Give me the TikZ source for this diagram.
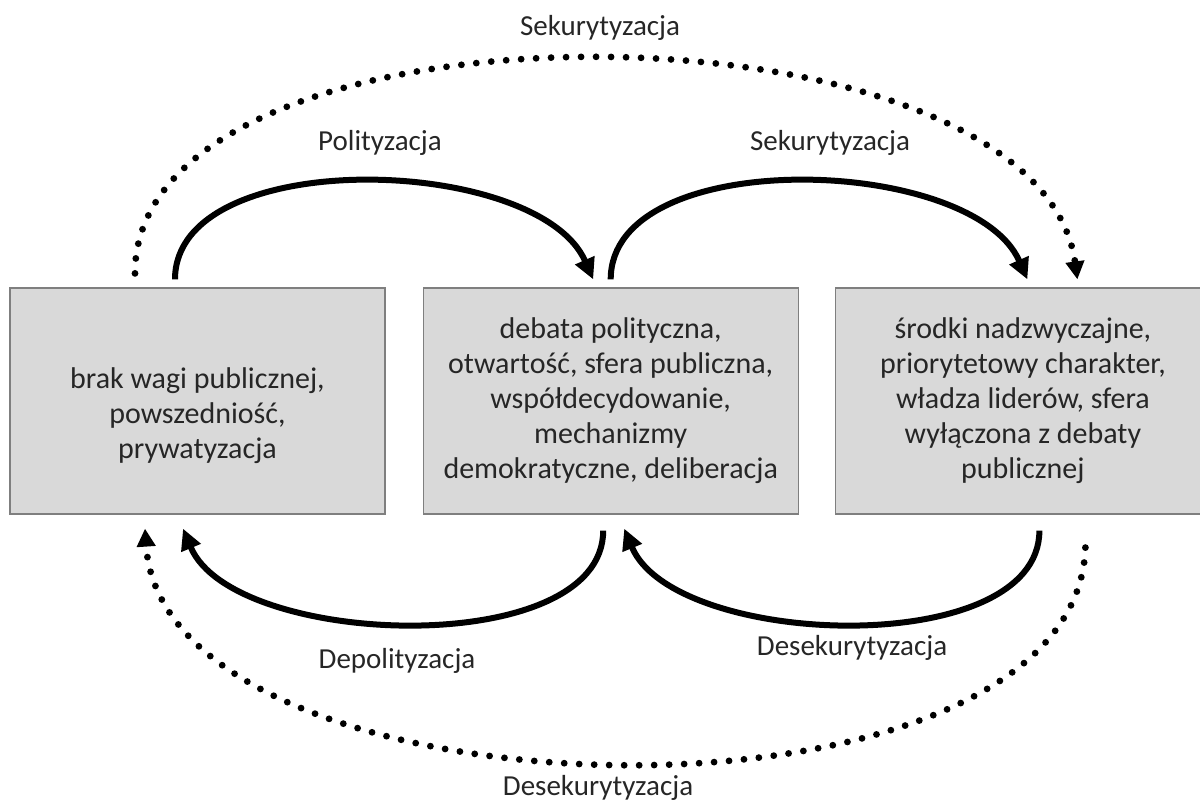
\documentclass[tikz,border=0pt]{standalone}
\usepackage{fontspec}
\setmainfont{Carlito}
\usetikzlibrary{arrows.meta, positioning}
\definecolor{boxgray}{RGB}{217,217,217}
\definecolor{boxborder}{RGB}{127,127,127}
\definecolor{inkdark}{RGB}{38,38,38}

\begin{document}
\begin{tikzpicture}[x=0.5pt, y=0.5pt,
  stance/.style={draw=boxborder, fill=boxgray, line width=0.6pt,
    minimum width=187.5pt, minimum height=113pt, inner sep=0pt,
    align=center, text=inkdark, font=\fontsize{15}{17.5}\selectfont},
  move/.style={line width=3pt, -{Triangle[length=10.5pt, width=10pt]}},
  jump/.style={line width=3.4pt, line cap=round, dash pattern=on 0pt off 7.5pt,
    -{Triangle[length=9pt, width=9pt]}},
  tag/.style={text=inkdark, font=\fontsize{14.5}{17}\selectfont}]
\useasboundingbox (0,0) rectangle (1200,804);

% ---- the three states ----
\node[stance] (brak) at (197.5,403)
  {\rule{0pt}{25.5pt}brak wagi publicznej,\\powszedniość,\\prywatyzacja};
\node[stance, right=18.5pt of brak] (debata)
  {debata polityczna,\\otwartość, sfera publiczna,\\współdecydowanie,\\mechanizmy\\demokratyczne, deliberacja};
\node[stance, right=18pt of debata] (srodki)
  {środki nadzwyczajne,\\priorytetowy charakter,\\władza liderów, sfera\\wyłączona z debaty\\publicznej};

% ---- arrow ends ----
\coordinate (polA)  at ([xshift=-11.25pt, yshift=4pt]brak.north);
\coordinate (polB)  at ([xshift=-8.75pt,  yshift=4pt]debata.north);
\coordinate (sekA)  at ([xshift=0pt,      yshift=4pt]debata.north);
\coordinate (sekB)  at ([xshift=2.25pt,   yshift=4pt]srodki.north);
\coordinate (jumpA) at ([xshift=-31.25pt, yshift=7pt]brak.north);
\coordinate (jumpB) at ([xshift=27.25pt,  yshift=4pt]srodki.north);
\coordinate (depA)  at ([xshift=-3.75pt,  yshift=-8pt]debata.south);
\coordinate (depB)  at ([xshift=-7.25pt,  yshift=-7pt]brak.south);
\coordinate (desA)  at ([xshift=8.25pt,   yshift=-8pt]srodki.south);
\coordinate (desB)  at ([xshift=6.75pt,   yshift=-7pt]debata.south);
\coordinate (jumpC) at ([xshift=31.25pt,  yshift=-16.5pt]srodki.south);
\coordinate (jumpD) at ([xshift=-26.25pt, yshift=-7pt]brak.south);

% ---- upper arcs ----
\draw[move] (polA) .. controls +(0,135) and +(-55,125) .. (polB);
\draw[move] (sekA) .. controls +(0,135) and +(-55,125) .. (sekB);
\draw[jump] (jumpA) .. controls +(0,290) and +(-40,290) .. (jumpB);

% ---- lower arcs ----
\draw[move] (depA) .. controls +(0,-130) and +(50,-120) .. (depB);
\draw[move] (desA) .. controls +(0,-130) and +(50,-120) .. (desB);
\draw[jump] (jumpC) .. controls +(-10,-300) and +(20,-300) .. (jumpD);

% ---- labels ----
\node[tag] (sekTop)    at (600,776) {Sekurytyzacja};
\node[tag] (polLabel)  at (380,661) {Polityzacja};
\node[tag] (sekLabel)  at (830,661) {Sekurytyzacja};
\node[tag] (depLabel)  at (397,143) {Depolityzacja};
\node[tag] (desLabel)  at (852,156) {Desekurytyzacja};
\node[tag] (desBottom) at (598,16)  {Desekurytyzacja};
\end{tikzpicture}
\end{document}
